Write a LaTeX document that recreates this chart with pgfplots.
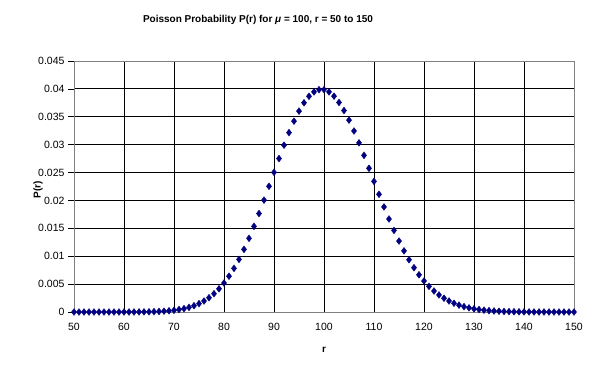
\documentclass[border=0pt]{standalone}
\usepackage{pgfplots}
\pgfplotsset{compat=1.18}
\usepackage{fontspec}
\setmainfont{Liberation Sans}
\definecolor{navy}{HTML}{000080}
\definecolor{frame}{HTML}{808080}
\begin{document}
\begin{tikzpicture}[x=1pt,y=1pt]
\useasboundingbox (0,0) rectangle (600,376);
\node[font=\fontsize{10}{12}\selectfont\bfseries] at (258,356) {Poisson Probability P(r) for \textit{μ} = 100, r = 50 to 150};
\node[font=\fontsize{10}{12}\selectfont\bfseries, rotate=90] at (38,186) {P(r)};
\node[font=\fontsize{10}{12}\selectfont\bfseries] at (324,26) {r};
\begin{axis}[
  at={(74pt,64pt)}, anchor=south west,
  scale only axis, width=500pt, height=251pt,
  xmin=50, xmax=150, ymin=0, ymax=0.045,
  clip=false,
  axis line style={draw=frame},
  xtick={50,60,...,140}, extra x ticks={150},
  ytick={0,0.005,0.01,0.015,0.02,0.025,0.03,0.035,0.04}, extra y ticks={0.045},
  extra x tick style={grid=none}, extra y tick style={grid=none},
  xmajorgrids, ymajorgrids,
  major grid style={black, line width=0.8pt},
  xtick style={draw=none},
  ytick pos=left, tick align=outside, major tick length=6pt,
  ytick style={black, line width=0.6pt},
  scaled y ticks=false,
  yticklabel style={/pgf/number format/fixed, /pgf/number format/precision=3},
  /pgf/number format/assume math mode=true,
  tick label style={font=\fontsize{10.5}{12}\selectfont},
  xticklabel style={yshift=-2pt},
]
\addplot[only marks, mark=diamond*, mark size=3.4pt, color=navy] coordinates {
(50,1.223e-8)(51,2.398e-8)(52,4.612e-8)(53,8.702e-8)(54,1.6115e-7)(55,2.93e-7)
(56,5.2321e-7)(57,9.1792e-7)(58,1.58262e-6)(59,2.6824e-6)(60,4.47067e-6)
(61,7.32896e-6)(62,1.18209e-5)(63,1.87634e-5)(64,2.93179e-5)(65,4.51044e-5)
(66,6.834e-5)(67,0.000102)(68,0.00015)(69,0.000217391)(70,0.000310559)
(71,0.000437407)(72,0.000607509)(73,0.000832204)(74,0.0011246)(75,0.00149947)
(76,0.00197299)(77,0.00256232)(78,0.00328503)(79,0.00415827)(80,0.00519784)
(81,0.00641709)(82,0.00782572)(83,0.00942858)(84,0.0112245)(85,0.0132053)
(86,0.015355)(87,0.0176494)(88,0.0200562)(89,0.022535)(90,0.0250389)
(91,0.0275153)(92,0.0299079)(93,0.0321591)(94,0.0342118)(95,0.0360124)
(96,0.0375129)(97,0.0386731)(98,0.0394624)(99,0.039861)(100,0.039861)
(101,0.0394663)(102,0.0386925)(103,0.0375655)(104,0.0361207)(105,0.0344007)
(106,0.0324535)(107,0.0303304)(108,0.0280837)(109,0.0257649)(110,0.0234226)
(111,0.0211014)(112,0.0188405)(113,0.016673)(114,0.0146254)(115,0.0127178)
(116,0.0109636)(117,0.00937058)(118,0.00794117)(119,0.00667325)(120,0.00556104)
(121,0.0045959)(122,0.00376713)(123,0.00306271)(124,0.00246993)(125,0.00197595)
(126,0.00156821)(127,0.00123481)(128,0.000964696)(129,0.000747826)(130,0.000575251)
(131,0.000439123)(132,0.000332669)(133,0.000250127)(134,0.000186662)(135,0.000138268)
(136,0.000101668)(137,7.42102e-5)(138,5.37755e-5)(139,3.86874e-5)(140,2.76339e-5)
(141,1.95985e-5)(142,1.38018e-5)(143,9.65161e-6)(144,6.70251e-6)(145,4.62242e-6)
(146,3.16604e-6)(147,2.15377e-6)(148,1.45525e-6)(149,9.7668e-7)(150,6.5112e-7)
};
\end{axis}
\end{tikzpicture}
\end{document}
